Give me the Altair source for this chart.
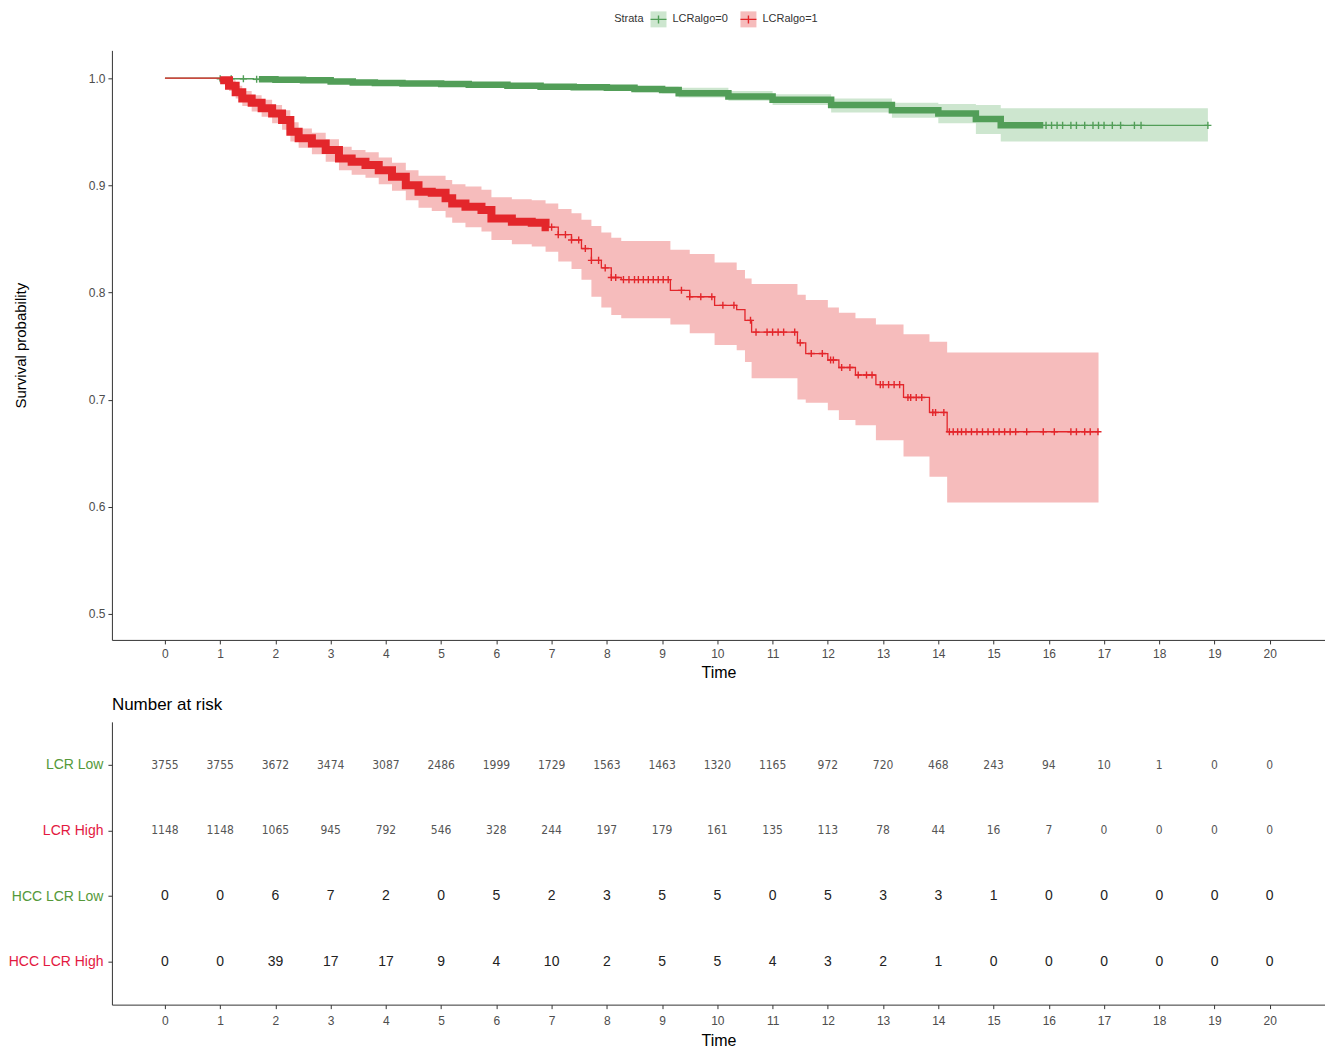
import altair as alt
import numpy as np
import pandas as pd

FONT = "Liberation Sans, Arial, Helvetica, sans-serif"
NARROW = "Liberation Sans Narrow, Arial Narrow, DejaVu Sans Condensed, Liberation Sans, sans-serif"

strata = ["LCRalgo=0", "LCRalgo=1"]
green = "#529e58"
red = "#e3262b"
green_fill = "#cde6cf"
red_fill = "#f6bcbc"

# ---- Kaplan-Meier estimates ----
green_t = [0, 1.0, 1.6, 2.0, 2.5, 3.0, 3.4, 3.8, 4.3, 5.0, 5.5, 6.2, 6.8, 7.4, 8.0, 8.5, 9.0, 9.3, 10.2, 11.0,
           12.06, 13.16, 14.0, 14.68, 15.13, 18.88]
green_s = [1.0, 0.9995, 0.999, 0.9985, 0.998, 0.997, 0.996, 0.9955, 0.995, 0.9945, 0.994, 0.993, 0.992, 0.9915,
           0.991, 0.990, 0.989, 0.986, 0.983, 0.980, 0.975, 0.970, 0.967, 0.962, 0.956, 0.956]
green_up = [1.0, 1.0, 1.0, 1.0, 0.999, 0.9985, 0.998, 0.9975, 0.997, 0.9965, 0.996, 0.995, 0.994, 0.9935,
            0.993, 0.9925, 0.992, 0.991, 0.988, 0.985, 0.981, 0.977, 0.976, 0.975, 0.972, 0.972]
green_lo = [1.0, 0.999, 0.998, 0.9975, 0.997, 0.9955, 0.994, 0.9935, 0.993, 0.9925, 0.992, 0.991, 0.990, 0.989,
            0.988, 0.987, 0.986, 0.982, 0.979, 0.975, 0.968, 0.963, 0.958, 0.948, 0.941, 0.941]

red_t = [0, 1.0, 1.16, 1.28, 1.40, 1.57, 1.75, 1.94, 2.12, 2.27, 2.42, 2.66, 2.91, 3.15, 3.38, 3.63, 3.87, 4.11,
         4.36, 4.59, 4.83, 5.08, 5.2, 5.44, 5.73, 5.91, 6.28, 6.64, 6.89, 7.12, 7.36, 7.54, 7.72, 7.9, 8.08, 8.26,
         9.15, 9.5, 9.95, 10.35, 10.5, 10.62, 11.45, 11.6, 12.0, 12.2, 12.5, 12.87, 13.37, 13.84, 14.16, 16.9]
red_s = [1.0, 0.998, 0.993, 0.987, 0.981, 0.977, 0.972, 0.967, 0.961, 0.950, 0.944, 0.939, 0.933, 0.925, 0.922,
         0.919, 0.914, 0.908, 0.900, 0.894, 0.893, 0.888, 0.883, 0.880, 0.877, 0.869, 0.866, 0.865, 0.861, 0.854,
         0.849, 0.841, 0.830, 0.823, 0.814, 0.812, 0.802, 0.796, 0.788, 0.784, 0.774, 0.763, 0.753, 0.743, 0.737,
         0.730, 0.723, 0.714, 0.702, 0.688, 0.670, 0.670]
red_up = [1.0, 1.0, 0.998, 0.993, 0.988, 0.984, 0.980, 0.975, 0.970, 0.959, 0.953, 0.949, 0.943, 0.936, 0.933,
          0.931, 0.926, 0.921, 0.914, 0.909, 0.909, 0.905, 0.901, 0.899, 0.896, 0.889, 0.887, 0.886, 0.883, 0.878,
          0.874, 0.868, 0.862, 0.856, 0.851, 0.848, 0.840, 0.836, 0.828, 0.821, 0.813, 0.808, 0.798, 0.793, 0.786,
          0.781, 0.776, 0.770, 0.761, 0.754, 0.744, 0.744]
red_lo = [1.0, 0.995, 0.988, 0.981, 0.974, 0.969, 0.964, 0.958, 0.952, 0.941, 0.935, 0.929, 0.922, 0.914, 0.910,
          0.907, 0.901, 0.895, 0.886, 0.879, 0.876, 0.870, 0.865, 0.861, 0.857, 0.849, 0.845, 0.843, 0.838, 0.829,
          0.822, 0.812, 0.796, 0.786, 0.779, 0.776, 0.770, 0.762, 0.751, 0.746, 0.735, 0.720, 0.700, 0.697, 0.690,
          0.681, 0.676, 0.662, 0.647, 0.628, 0.604, 0.604]

# time spans where censoring marks overlap into a solid band
green_dense = [1.7, 15.9]
red_dense = [1.0, 6.95]

# individually visible censoring times
green_cens = [1.0, 1.2, 1.42, 1.66, 15.95, 16.05, 16.15, 16.25, 16.4, 16.5, 16.65, 16.8, 16.9, 17.0,
              17.15, 17.3, 17.55, 17.67, 18.88]
red_cens = [7.0, 7.12, 7.25, 7.36, 7.49, 7.61, 7.72, 7.85, 7.97, 8.08, 8.16, 8.3, 8.4, 8.5, 8.57, 8.66, 8.75,
            8.84, 8.93, 9.02, 9.11, 9.35, 9.5, 9.7, 9.9, 10.1, 10.3, 10.6, 10.7, 10.9, 11.0, 11.1, 11.2, 11.4,
            11.5, 11.7, 11.9, 12.05, 12.1, 12.25, 12.4, 12.55, 12.7, 12.8, 12.95, 13.0, 13.1, 13.2, 13.3, 13.45,
            13.5, 13.6, 13.7, 13.9, 13.95, 14.1, 14.2, 14.27, 14.35, 14.42, 14.5, 14.6, 14.7, 14.8, 14.9, 15.0,
            15.1, 15.2, 15.3, 15.4, 15.6, 15.9, 16.1, 16.4, 16.5, 16.65, 16.75, 16.89]

# ---- number at risk table ----
risk_times = list(range(21))
risk_rows = ["LCR Low", "LCR High", "HCC LCR Low", "HCC LCR High"]
lcr_low = [3755, 3755, 3672, 3474, 3087, 2486, 1999, 1729, 1563, 1463, 1320, 1165, 972, 720, 468, 243, 94, 10, 1, 0, 0]
lcr_high = [1148, 1148, 1065, 945, 792, 546, 328, 244, 197, 179, 161, 135, 113, 78, 44, 16, 7, 0, 0, 0, 0]
hcc_low = [0, 0, 6, 7, 2, 0, 5, 2, 3, 5, 5, 0, 5, 3, 3, 1, 0, 0, 0, 0, 0]
hcc_high = [0, 0, 39, 17, 17, 9, 4, 10, 2, 5, 5, 4, 3, 2, 1, 0, 0, 0, 0, 0, 0]


def step_at(ts, vs, t):
    i = int(np.searchsorted(np.asarray(ts, dtype=float), t, side="right")) - 1
    return vs[max(i, 0)]


def curve_frame(name, ts, ss, up, lo):
    return pd.DataFrame({"strata": name, "t": ts, "s": ss, "up": up, "lo": lo})


def dense_frame(name, ts, ss, rng):
    a, b = rng
    pts = [a] + [t for t in ts if a < t < b] + [b]
    return pd.DataFrame({"strata": name, "t": pts, "s": [step_at(ts, ss, p) for p in pts]})


def cens_frame(name, ts, ss, cens):
    return pd.DataFrame({"strata": name, "t": cens, "s": [step_at(ts, ss, c) for c in cens]})


gcurve = curve_frame(strata[0], green_t, green_s, green_up, green_lo)
rcurve = curve_frame(strata[1], red_t, red_s, red_up, red_lo)
gdense = dense_frame(strata[0], green_t, green_s, green_dense)
rdense = dense_frame(strata[1], red_t, red_s, red_dense)
gcens = cens_frame(strata[0], green_t, green_s, green_cens)
rcens = cens_frame(strata[1], red_t, red_s, red_cens)

CROSS = "M-1,0L1,0M0,-1L0,1"
KEY = "M-1,0L1,0M0,-0.5L0,0.5"

AX_COMMON = dict(
    grid=False, domainColor="#333333", domainWidth=1, tickColor="#333333", tickSize=4,
    labelColor="#4d4d4d", labelFontSize=12, labelFont=FONT,
    titleFont=FONT, titleColor="#000000", titleFontWeight="normal",
)

xs = alt.Scale(domain=[-0.96, 21.0], nice=False, zero=False)
ys = alt.Scale(domain=[0.4757, 1.026], nice=False, zero=False)
xaxis = alt.Axis(values=risk_times, title="Time", titleFontSize=16, titlePadding=5, labelPadding=5, **AX_COMMON)
yaxis = alt.Axis(values=[0.5, 0.6, 0.7, 0.8, 0.9, 1.0], format=".1f", title="Survival probability",
                 titleFontSize=15, titlePadding=60, labelPadding=3, **AX_COMMON)


def X():
    return alt.X("t:Q", scale=xs, axis=xaxis)


def Y(f):
    return alt.Y(f"{f}:Q", scale=ys, axis=yaxis)


layers = []
for cdf, fill in [(gcurve, green_fill), (rcurve, red_fill)]:
    layers.append(alt.Chart(cdf).mark_area(interpolate="step-after", color=fill, opacity=1)
                  .encode(x=X(), y=Y("lo"), y2=alt.Y2("up:Q")))
for cdf, ddf, edf, col, w in [(gcurve, gdense, gcens, green, 6.5), (rcurve, rdense, rcens, red, 8)]:
    layers.append(alt.Chart(cdf).mark_line(interpolate="step-after", color=col, strokeWidth=1.3)
                  .encode(x=X(), y=Y("s")))
    layers.append(alt.Chart(ddf).mark_line(interpolate="step-after", color=col, strokeWidth=w, strokeCap="butt")
                  .encode(x=X(), y=Y("s")))
    layers.append(alt.Chart(edf).mark_point(shape=CROSS, filled=False, color=col, size=50, strokeWidth=1.4, opacity=1)
                  .encode(x=X(), y=Y("s")))

# legend drawn above the plot area
leg = pd.DataFrame({"strata": strata, "fill": [green_fill, red_fill], "col": [green, red], "slot": [0, 1]})
leg_base = alt.Chart(leg).transform_calculate(lx="547 + 90*datum.slot")
LX = alt.X("lx:Q", scale=None, axis=None)
LY = alt.value(-31)
layers.append(leg_base.mark_square(size=256, opacity=1).encode(x=LX, y=LY, color=alt.Color("fill:N", scale=None)))
layers.append(leg_base.mark_point(shape=KEY, filled=False, size=256, strokeWidth=1.4, opacity=1)
              .encode(x=LX, y=LY, color=alt.Color("col:N", scale=None)))
layers.append(leg_base.mark_text(align="left", baseline="middle", dx=14, fontSize=11, font=FONT, color="#333333")
              .encode(x=LX, y=LY, text="strata:N"))
layers.append(alt.Chart(pd.DataFrame({"label": ["Strata"]}))
              .mark_text(align="right", baseline="middle", fontSize=11, font=FONT, color="#333333")
              .encode(x=alt.value(532), y=LY, text="label:N"))

km = alt.layer(*layers).properties(width=1214, height=590)

# risk table
rows = []
for name, vals in zip(risk_rows, [lcr_low, lcr_high, hcc_low, hcc_high]):
    for t, n in zip(risk_times, vals):
        rows.append({"row": name, "time": t, "n": str(n)})
risk_df = pd.DataFrame(rows)

xaxis_r = alt.Axis(values=risk_times, title="Time", titleFontSize=16, titlePadding=6, labelPadding=7, **AX_COMMON)
yr_common = dict(AX_COMMON)
yr_common.update(labelFontSize=14, labelPadding=5,
                 labelColor={"expr": "indexof(datum.value, 'Low') >= 0 ? '#55993a' : '#e3193f'"})
yaxis_r = alt.Axis(title=None, **yr_common)
yr = alt.Scale(type="point", domain=risk_rows, padding=0.65)

risk_base = alt.Chart(risk_df).encode(
    x=alt.X("time:Q", scale=xs, axis=xaxis_r),
    y=alt.Y("row:N", scale=yr, axis=yaxis_r, sort=risk_rows),
    text="n:N",
)
risk_top = risk_base.transform_filter(alt.FieldOneOfPredicate(field="row", oneOf=risk_rows[:2])) \
    .mark_text(fontSize=12, font=NARROW, color="#555555")
risk_bot = risk_base.transform_filter(alt.FieldOneOfPredicate(field="row", oneOf=risk_rows[2:])) \
    .mark_text(fontSize=14, font=FONT, color="#222222")

risk = alt.layer(risk_top, risk_bot).properties(
    width=1214, height=283,
    title=alt.TitleParams("Number at risk", anchor="start", frame="group", fontSize=17,
                          fontWeight="normal", color="#000000", font=FONT, offset=8),
)

chart = alt.vconcat(km, risk, spacing=82, bounds="flush").properties(
    padding={"left": 0, "top": 3, "right": 0, "bottom": 0}
).configure(font=FONT).configure_view(stroke=None, strokeWidth=0)

chart.save("out.html", embed_options={"renderer": "svg", "actions": False})
